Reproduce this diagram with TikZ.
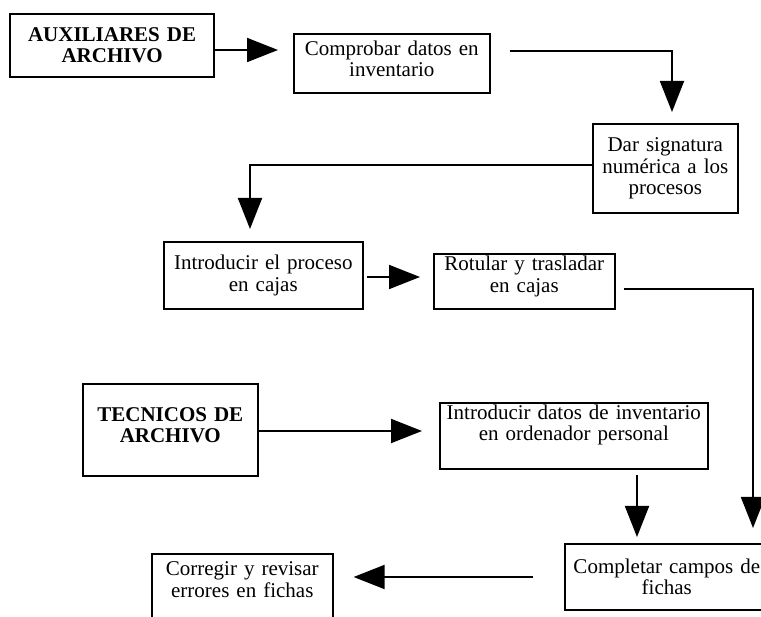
\documentclass[tikz,border=0pt]{standalone}
\usepackage{fontspec}
\setmainfont{Liberation Serif}
\usepackage{tikz}
\usetikzlibrary{arrows.meta}

\begin{document}
\begin{tikzpicture}[x=1pt, y=-1pt, font=\fontsize{21}{21.5}\selectfont, >={Triangle[length=31pt, width=24pt]}, box/.style = {draw, line width=1.6pt, anchor=north west, align=center, inner xsep=2pt, inner ysep=0pt}, head/.style = {box, font=\fontsize{21}{21}\selectfont\bfseries}, flow/.style = {line width=1.9pt}]
    \useasboundingbox (0,0) rectangle (761,617);
    \node[head, line width=2.2pt, minimum width=204pt, minimum height=63pt, text width=200pt] (1) at (9,13) {AUXILIARES DE\\ARCHIVO};
    \node[box, minimum width=196pt, minimum height=59pt, text width=192pt, text depth=31pt] (2) at (293,33) {Comprobar datos en\\inventario};
    \node[box, minimum width=145pt, minimum height=89pt, text width=141pt] (3) at (592,123) {Dar signatura\\numérica a los\\procesos};
    \node[box, minimum width=199pt, minimum height=67pt, text width=195pt] (4) at (163,241) {Introducir el proceso\\en cajas};
    \node[box, minimum width=181pt, minimum height=55pt, text width=177pt, text depth=36pt] (5) at (433,253) {Rotular y trasladar\\en cajas};
    \node[head, minimum width=175pt, minimum height=92pt, text width=171pt, text depth=31pt] (6) at (82,383) {TECNICOS DE\\ARCHIVO};
    \node[box, minimum width=268pt, minimum height=66pt, text width=264pt, text depth=48pt] (7) at (439,402) {Introducir datos de inventario\\en ordenador personal};
    \node[box, minimum width=204pt, minimum height=66pt, text width=200pt] (8) at (564,543) {Completar campos de\\fichas};
    \node[box, minimum width=181pt, minimum height=80pt, text width=177pt, text depth=50pt] (9) at (151,553) {Corregir y revisar\\errores en fichas};
    \draw[flow, ->, shorten >=15pt] (1.east |- 0,50) -- (2.west |- 0,50);
    \draw[flow, ->, shorten <=19pt, shorten >=11pt] (2.east |- 0,51) -| (3.north -| 672,0);
    \draw[flow, ->, shorten >=12pt] (3.west |- 0,165) -| (4.north -| 250,0);
    \draw[flow, ->, shorten <=3pt, shorten >=13pt] (4.east |- 0,277) -- (5.west |- 0,277);
    \draw[flow, ->, shorten <=8pt, shorten >=15pt] (5.east |- 0,289) -| (8.north -| 753,0);
    \draw[flow, ->, shorten >=17pt] (6.east |- 0,431) -- (7.west |- 0,431);
    \draw[flow, ->, shorten <=5pt, shorten >=6pt] (7.south -| 637,0) -- (8.north -| 637,0);
    \draw[flow, ->, shorten <=31pt, shorten >=20pt] (8.west |- 0,577) -- (9.east |- 0,577);
\end{tikzpicture}
\end{document}
